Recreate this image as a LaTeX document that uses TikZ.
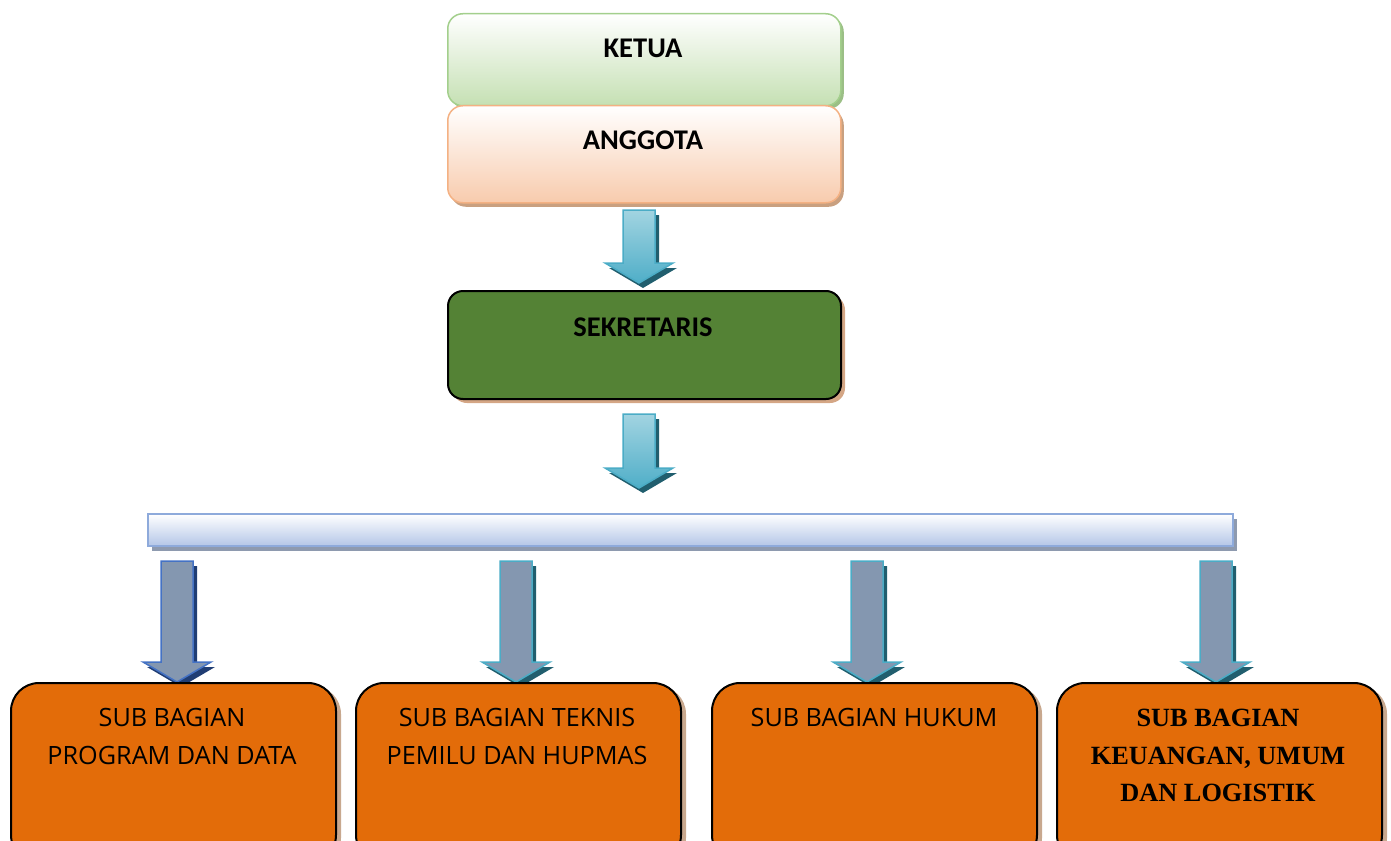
\documentclass[tikz,border=0pt]{standalone}
\usepackage{fontspec}
\setmainfont{Carlito}
\newfontfamily\serifbold{Liberation Serif}
\newfontfamily\subfont{Open Sans}
\usetikzlibrary{shadows}
\definecolor{ketuaBot}{HTML}{C5E0B3}
\definecolor{ketuaLine}{HTML}{A3CF8C}
\definecolor{ketuaShadow}{HTML}{9BBF86}
\definecolor{angBot}{HTML}{F8CBAD}
\definecolor{angLine}{HTML}{F4B183}
\definecolor{angShadow}{HTML}{C9A080}
\definecolor{sekFill}{HTML}{548235}
\definecolor{sekShadow}{HTML}{D4A685}
\definecolor{barBot}{HTML}{B4C6E7}
\definecolor{barLine}{HTML}{8EAADB}
\definecolor{barShadow}{HTML}{8E9AAF}
\definecolor{subFill}{HTML}{E36C09}
\definecolor{subShadow}{HTML}{C8A88E}
\definecolor{arrTop}{HTML}{A2D4E1}
\definecolor{arrBot}{HTML}{4FAEC8}
\definecolor{arrLine}{HTML}{4BACC6}
\definecolor{arrShadow}{HTML}{215E6E}
\definecolor{grayArr}{HTML}{8497B0}
\definecolor{blueLine}{HTML}{4472C4}
\definecolor{blueShadow}{HTML}{203D73}
\tikzset{
  topbox/.style={rounded corners=15pt, line width=1.5pt, minimum width=393pt, anchor=north west, inner sep=0pt},
  subbox/.style={rounded corners=28pt, draw=black, line width=2pt, fill=subFill, minimum width=325pt, minimum height=180pt, anchor=north west, inner sep=0pt,
     drop shadow={shadow xshift=5pt, shadow yshift=-3pt, fill=subShadow, opacity=1}},
  boldlabel/.style={font=\bfseries\fontsize{28.5}{33}\selectfont, inner sep=0pt},
  sublabel/.style={font=\subfont\fontsize{25.2}{38}\selectfont, align=center, anchor=north, inner sep=0pt},
  pics/darrow/.style args={#1/#2/#3}{code={
    \fill[#3] (-12,5) -- (20,5) -- (20,#1+5) -- (38,#1+5) -- (4,#1+25) -- (-30,#1+5) -- (-12,#1+5) -- cycle;
    \draw[#2, line width=1.5pt, line join=miter] (-16,0) -- (16,0) -- (16,#1) -- (34,#1) -- (0,#1+20) -- (-34,#1) -- (-16,#1) -- cycle;
  }}
}
\begin{document}
\begin{tikzpicture}[x=1pt,y=-1pt]
\useasboundingbox (0,0) rectangle (1391,840);
\clip (0,0) rectangle (1391,840);
% top boxes
\node[topbox, minimum height=92pt, draw=ketuaLine, top color=white, bottom color=ketuaBot,
  drop shadow={shadow xshift=3pt, shadow yshift=-3pt, fill=ketuaShadow, opacity=1}] (ketua) at (447,13) {};
\node[boldlabel] (ketuaT) at (643,48) {KETUA};
\node[topbox, minimum height=97pt, draw=angLine, top color=white, bottom color=angBot,
  drop shadow={shadow xshift=3pt, shadow yshift=-4pt, fill=angShadow, opacity=1}] (anggota) at (447,105) {};
\node[boldlabel] (anggotaT) at (643,140) {ANGGOTA};
% arrow 1
\pic at (639,210) {darrow=53/{draw=arrLine, top color=arrTop, bottom color=arrBot}/{arrShadow}};
% sekretaris
\node[topbox, minimum height=108pt, draw=black, line width=2pt, fill=sekFill,
  drop shadow={shadow xshift=4pt, shadow yshift=-4pt, fill=sekShadow, opacity=1}] (sek) at (447,290) {};
\node[boldlabel] (sekT) at (643,327) {SEKRETARIS};
% arrow 2
\pic at (639,414) {darrow=54/{draw=arrLine, top color=arrTop, bottom color=arrBot}/{arrShadow}};
% bar
\node[minimum width=1085pt, minimum height=32pt, anchor=north west, inner sep=0pt, draw=barLine, line width=2pt,
  top color=white, bottom color=barBot,
  drop shadow={shadow xshift=4pt, shadow yshift=-5pt, fill=barShadow, opacity=1}] (bar) at (147,513) {};
% bottom arrows
\pic at (177,561) {darrow=101/{draw=blueLine, fill=grayArr}/{blueShadow}};
\pic at (516,561) {darrow=101/{draw=arrLine, fill=grayArr}/{arrShadow}};
\pic at (867,561) {darrow=101/{draw=arrLine, fill=grayArr}/{arrShadow}};
\pic at (1216,561) {darrow=101/{draw=arrLine, fill=grayArr}/{arrShadow}};
% bottom boxes
\node[subbox] (sub1) at (10,682) {};
\node[subbox] (sub2) at (355,682) {};
\node[subbox] (sub3) at (711,682) {};
\node[subbox] (sub4) at (1056,682) {};
\node[sublabel] (sub1T) at (172,708) {SUB BAGIAN\\PROGRAM DAN DATA};
\node[sublabel] (sub2T) at (517,708) {SUB BAGIAN TEKNIS\\PEMILU DAN HUPMAS};
\node[sublabel] (sub3T) at (874,708) {SUB BAGIAN HUKUM};
\node[sublabel, font=\serifbold\bfseries\fontsize{26.3}{37.5}\selectfont] (sub4T) at (1218,709) {SUB BAGIAN\\KEUANGAN, UMUM\\DAN LOGISTIK};
\end{tikzpicture}
\end{document}
